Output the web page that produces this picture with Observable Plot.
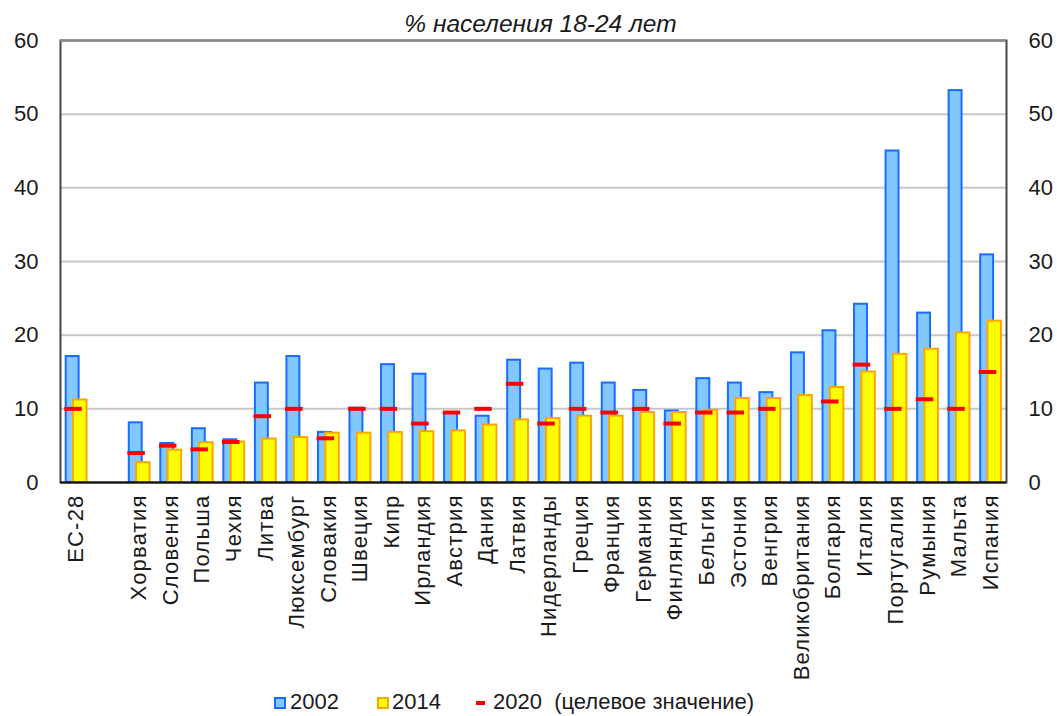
<!DOCTYPE html>
<html>
<head>
<meta charset="utf-8">
<script src="https://cdn.jsdelivr.net/npm/d3@7"></script>
<script src="https://cdn.jsdelivr.net/npm/@observablehq/plot@0.6"></script>
<style>
  html, body { margin: 0; padding: 0; background: #fff; }
  #wrap { position: relative; width: 1057px; height: 716px; overflow: hidden; font-family: "Liberation Sans", Arial, sans-serif; color: #1a1a1a; }
  #title { position: absolute; left: 0; top: 12px; width: 1081px; text-align: center; font-size: 24.5px; line-height: 24px; font-style: italic; }
  #chart { position: absolute; left: 0; top: 0; }
  .lg { position: absolute; top: 693px; font-size: 22px; line-height: 18px; white-space: nowrap; }
  .sw { position: absolute; box-sizing: border-box; }
</style>
</head>
<body>
<div id="wrap">
  <div id="chart"></div>
  <div id="title">% населения 18-24 лет</div>
  <div class="sw" style="left:274px;top:697px;width:12px;height:12px;background:#80c8ff;border:2px solid #1a6cff;"></div>
  <div class="lg" style="left:290px;">2002</div>
  <div class="sw" style="left:377px;top:697px;width:12px;height:12px;background:#ffff00;border:2px solid #ffa500;"></div>
  <div class="lg" style="left:392px;">2014</div>
  <div class="sw" style="left:476px;top:701px;width:9px;height:4px;background:#ff0000;"></div>
  <div class="lg" style="left:493px;">2020&nbsp; (целевое значение)</div>
</div>
<script>
const categories = ["ЕС-28","Хорватия","Словения","Польша","Чехия","Литва","Люксембург","Словакия","Швеция","Кипр","Ирландия","Австрия","Дания","Латвия","Нидерланды","Греция","Франция","Германия","Финляндия","Бельгия","Эстония","Венгрия","Великобритания","Болгария","Италия","Португалия","Румыния","Мальта","Испания"];
const v2002 = [17.1, 8.1, 5.3, 7.3, 5.8, 13.5, 17.1, 6.8, 10.1, 16.0, 14.7, 9.5, 9.0, 16.6, 15.4, 16.2, 13.5, 12.5, 9.7, 14.1, 13.5, 12.2, 17.6, 20.6, 24.2, 45.0, 23.0, 53.2, 30.9];
const v2014 = [11.2, 2.7, 4.4, 5.4, 5.5, 5.9, 6.1, 6.7, 6.7, 6.8, 6.9, 7.0, 7.8, 8.5, 8.7, 9.0, 9.0, 9.5, 9.5, 9.8, 11.4, 11.4, 11.8, 12.9, 15.0, 17.4, 18.1, 20.3, 21.9];
const v2020 = [10, 4, 5, 4.5, 5.5, 9, 10, 6, 10, 10, 8, 9.5, 10, 13.4, 8, 10, 9.5, 10, 8, 9.5, 9.5, 10, null, 11, 16, 10, 11.3, 10, 15];
const yTicks = [0, 10, 20, 30, 40, 50, 60];
const gapLabel = " ";

const domain = [categories[0], gapLabel, ...categories.slice(1)];
const rows = categories.map((c, i) => ({c, a: v2002[i], b: v2014[i], t: v2020[i]}));
const font = "22px";

const chart = Plot.plot({
  width: 1057,
  height: 690,
  marginTop: 40,
  marginBottom: 208,
  marginLeft: 60,
  marginRight: 51,
  style: {fontFamily: "'Liberation Sans', Arial, sans-serif", color: "#1a1a1a", background: "transparent"},
  x: {type: "band", domain, padding: 0, round: false, label: null},
  y: {domain: [0, 60], label: null},
  marks: [
    Plot.ruleY(yTicks.filter(d => d > 0 && d < 60), {stroke: "#c8c8c8", strokeWidth: 2}),
    Plot.barY(rows, {x: "c", y: "a", fill: "#80c8ff", stroke: "#1a6cff", strokeWidth: 2, insetLeft: 5.7, insetRight: 12.9}),
    Plot.barY(rows, {x: "c", y: "b", fill: "#ffff00", stroke: "#ffa500", strokeWidth: 2, insetLeft: 13, insetRight: 5}),
    Plot.tickY(rows.filter(d => d.t != null), {x: "c", y: "t", stroke: "#ff0000", strokeWidth: 4, insetLeft: 4.3, insetRight: 9.7}),
    Plot.frame({stroke: "#444", strokeWidth: 2}),
    Plot.ruleY([60], {stroke: "#8a8a8a", strokeWidth: 2}),
    Plot.ruleY([0], {stroke: "#111", strokeWidth: 2}),
    Plot.axisY({anchor: "left", ticks: yTicks, tickSize: 0, tickPadding: 22, fontSize: font, label: null}),
    Plot.axisY({anchor: "right", ticks: yTicks, tickSize: 0, tickPadding: 22, fontSize: font, label: null}),
    Plot.axisX({anchor: "bottom", tickSize: 0, tickPadding: 12, tickRotate: -90, fontSize: font, label: null, tickFormat: d => d})
  ]
});
d3.select(chart).selectAll("g[aria-label='x-axis tick label'] text").style("letter-spacing", "1.2px");
document.getElementById("chart").appendChild(chart);
</script>
</body>
</html>
